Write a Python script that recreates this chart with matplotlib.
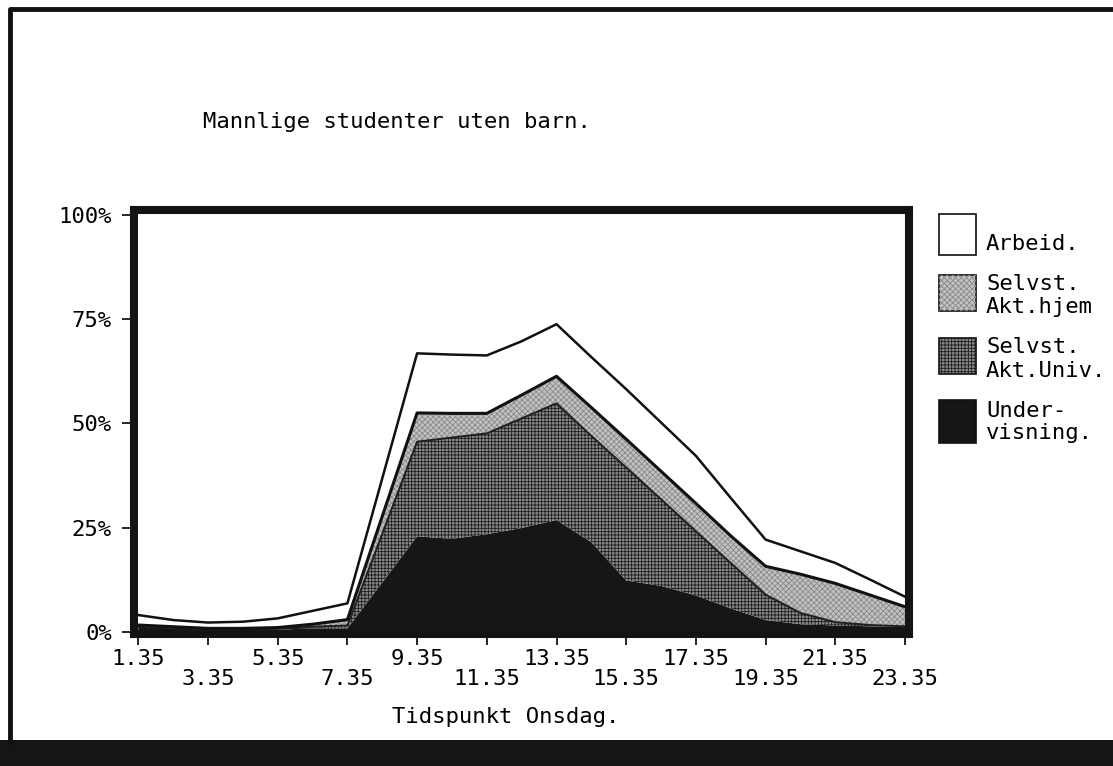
import matplotlib.pyplot as plt
from matplotlib.patches import Rectangle
from matplotlib.lines import Line2D
import numpy as np

# time på døgnet (kl. x.35), andel i prosent per aktivitet
timer = list(range(1, 24))
undervisning = [1.2, 0.8, 0.5, 0.5, 0.5, 0.8, 0.8, 11.8, 22.9, 22.3, 23.4, 24.9,
                26.8, 21.5, 12.3, 11.0, 8.7, 5.6, 2.8, 1.8, 1.5, 1.3, 1.2]
selvst_univ = [0.1, 0.1, 0.1, 0.1, 0.2, 0.4, 0.7, 11.7, 22.7, 24.3, 24.2, 26.3,
               28.0, 25.5, 27.1, 20.8, 15.4, 10.9, 6.1, 2.7, 0.8, 0.3, 0.1]
selvst_hjem = [0.3, 0.3, 0.2, 0.2, 0.3, 0.6, 1.4, 4.2, 6.9, 5.8, 4.8, 5.6,
               6.5, 6.8, 6.8, 6.7, 6.7, 6.5, 6.8, 9.3, 9.3, 7.2, 4.7]
arbeid = [2.4, 1.6, 1.4, 1.6, 2.2, 3.2, 3.9, 9.1, 14.3, 14.1, 13.9, 12.9,
          12.5, 12.1, 12.0, 11.7, 11.4, 9.1, 6.4, 5.5, 4.9, 3.7, 2.4]

rad1 = [1, 5, 9, 13, 17, 21]
rad2 = [3, 7, 11, 15, 19, 23]
y_ticks = [0, 25, 50, 75, 100]
y_tekst = ['0%', '25%', '50%', '75%', '100%']

tittel = 'Mannlige studenter uten barn.'
x_tittel = 'Tidspunkt Onsdag.'
legend_tekst = ['Arbeid.', 'Selvst.\nAkt.hjem', 'Selvst.\nAkt.Univ.', 'Under-\nvisning.']

W, H = 1113, 766
plt.rcParams['font.family'] = ['DejaVu Sans Mono']
plt.rcParams['hatch.linewidth'] = 0.6
FS = 16

UNIV_FC, UNIV_HC, UNIV_H = '#8a8a8a', '#1c1c1c', '+++++'
HJEM_FC, HJEM_HC, HJEM_H = '#c2c2c2', '#888888', 'xxxxxx'


def fx(px):
    return px / W


def fy(py):
    return 1 - py / H


fig = plt.figure(figsize=(W / 100, H / 100), dpi=100)
ax = fig.add_axes([fx(133.5), fy(634), fx(909) - fx(133.5), fy(210) - fy(634)])

u = np.array(undervisning)
l1 = u + np.array(selvst_univ)
l2 = l1 + np.array(selvst_hjem)
l3 = l2 + np.array(arbeid)

ax.fill_between(timer, 0, u, facecolor='#161616', linewidth=0, zorder=1)
ax.fill_between(timer, u, l1, facecolor=UNIV_FC, linewidth=0, zorder=1)
ax.fill_between(timer, u, l1, facecolor='none', edgecolor=UNIV_HC,
                hatch=UNIV_H, linewidth=0, zorder=1.1)
ax.fill_between(timer, l1, l2, facecolor=HJEM_FC, linewidth=0, zorder=1)
ax.fill_between(timer, l1, l2, facecolor='none', edgecolor=HJEM_HC,
                hatch=HJEM_H, linewidth=0, zorder=1.1)
ax.fill_between(timer, l2, l3, facecolor='white', linewidth=0, zorder=1)

ax.plot(timer, l1, color='#202020', lw=1.4, zorder=1.5)
ax.plot(timer, l2, color='#111111', lw=2.2, zorder=1.5)
ax.plot(timer, l3, color='#111111', lw=1.8, zorder=1.5)

ax.set_xlim(0.862, 23.115)
ax.set_ylim(-0.55, 101.2)

for s in ax.spines.values():
    s.set_linewidth(5.8)
    s.set_color('#141414')

ax.set_yticks(y_ticks)
ax.set_yticklabels(y_tekst, fontsize=FS)
ax.set_xticks(rad1)
ax.set_xticklabels([f'{t}.35' for t in rad1], fontsize=FS)
ax.set_xticks(rad2, minor=True)
ax.set_xticklabels([f'{t}.35' for t in rad2], minor=True, fontsize=FS)
ax.tick_params(axis='y', direction='out', length=8.5, width=1.2, pad=7)
ax.tick_params(axis='x', which='major', direction='out', length=8, width=1.2, pad=3)
ax.tick_params(axis='x', which='minor', direction='out', length=8, width=1.2, pad=17)

fig.text(fx(203), fy(128), tittel, fontsize=FS, va='baseline', ha='left')
fig.text(fx(506), fy(723), x_tittel, fontsize=FS, va='baseline', ha='center')

# forklaring til høyre
bokser = [(214, 255), (275, 311), (338, 374), (400, 443)]
farger = ['white', HJEM_FC, UNIV_FC, '#161616']
hatcher = [None, HJEM_H, UNIV_H, None]
hfarger = [None, HJEM_HC, UNIV_HC, None]
linjer = [[250], [290, 313], [353, 377], [417, 439]]
for (top, bunn), fc, ht, hc, tekst, bl in zip(bokser, farger, hatcher, hfarger,
                                            legend_tekst, linjer):
    fig.add_artist(Rectangle((fx(939), fy(bunn)), fx(976) - fx(939), fy(top) - fy(bunn),
                             transform=fig.transFigure, facecolor=fc,
                             edgecolor='#111111', lw=1.2))
    if ht:
        fig.add_artist(Rectangle((fx(939), fy(bunn)), fx(976) - fx(939), fy(top) - fy(bunn),
                                 transform=fig.transFigure, facecolor='none',
                                 edgecolor=hc, hatch=ht, lw=0))
    for linje, b in zip(tekst.split('\n'), bl):
        fig.text(fx(986), fy(b), linje, fontsize=FS, va='baseline', ha='left')

# ramme: venstre og topp, mørk stripe nederst
fig.add_artist(Line2D([fx(10), fx(10), fx(1113)], [fy(742), fy(9), fy(9)],
                      transform=fig.transFigure, color='#111111', lw=3.5))
fig.add_artist(Rectangle((0, 0), 1, fy(740), transform=fig.transFigure,
                         facecolor='#151515', edgecolor='none'))

fig.savefig('out.png', dpi=100)
